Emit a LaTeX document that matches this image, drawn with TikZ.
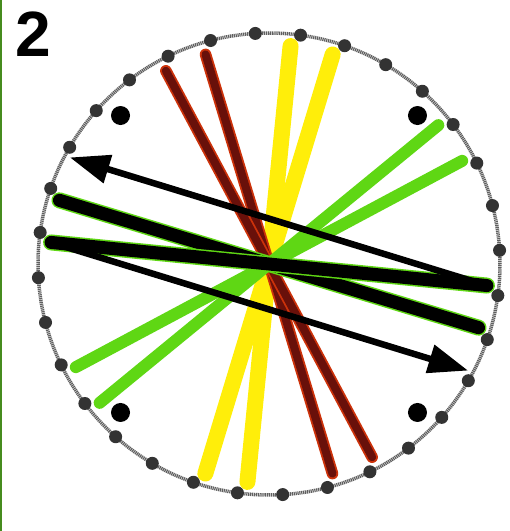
\documentclass[tikz,border=0pt]{standalone}
\usepackage{fontspec}
\setsansfont{Liberation Sans}
\usepackage{tikz}
\usetikzlibrary{arrows.meta, positioning, calc}

\definecolor{threadred}{RGB}{105,16,10}
\definecolor{threadredrim}{RGB}{205,50,10}
\definecolor{threadyellow}{RGB}{255,238,10}
\definecolor{threadgreen}{RGB}{95,215,20}
\definecolor{rimgray}{RGB}{95,95,95}
\definecolor{edgegreen}{RGB}{70,140,30}

\begin{document}
\begin{tikzpicture}[x=1pt, y=1pt,
  rim/.style={draw=rimgray, line width=3.5pt, dash pattern=on 1.2pt off 0.7pt},
  notch/.style={circle, fill=black!80, inner sep=0pt, minimum size=13pt},
  marker/.style={circle, fill=black, inner sep=0pt, minimum size=19pt},
  yellowthread/.style={draw=threadyellow, line width=16pt, line cap=round},
  greenthread/.style={draw=threadgreen, line width=12pt, line cap=round},
  redthread/.style={draw=threadredrim, line width=1.8pt, double=threadred, double distance=8pt, line cap=round},
  blackthread/.style={draw=threadgreen, line width=1.5pt, double=black, double distance=13pt, line cap=round},
  move/.style={draw=black, line width=6.5pt, -{Triangle[length=40pt, width=28pt]}},
  numlabel/.style={font=\sffamily\bfseries\fontsize{64}{64}\selectfont, inner sep=0pt},
]
\useasboundingbox (0,0) rectangle (510,531);

% ── frame edge and number ──
\draw[edgegreen, line width=2pt] (1,0) -- (1,531);
\node[numlabel] (num) at (33,497) {2};

\begin{scope}[shift={(269,267)}]
% ── disk: rim, 32 slots, 4 markers ──
\draw[rim] (0,0) circle[radius=231];
\foreach \k in {0,...,31}{
  \coordinate (n\k) at ({3.4+11.25*\k}:231);
  \coordinate (s\k) at ({5.6+11.25*\k}:219);
  \coordinate (t\k) at ({5.6+11.25*\k}:226);
  \node[notch] (b\k) at (n\k) {};
}
\foreach \a/\nm in {45/ne, 135/nw, 225/sw, 315/se}
  \node[marker] (m\nm) at (\a:210) {};

% ── threads ──
\draw[yellowthread] (s6) -- (s22);
\draw[yellowthread] (s7) -- (s23);
\draw[redthread] (s9) -- (s25);
\draw[redthread] (s10) -- (s26);
\draw[greenthread] (s2) -- (s18);
\draw[greenthread] (s3) -- (s19);
\draw[blackthread] (s14) -- (s30);
\draw[blackthread] (s15) -- (s31);

% ── moves ──
\draw[move] (s31) -- (t13);
\draw[move] (s15) -- (t29);
\end{scope}
\end{tikzpicture}
\end{document}
